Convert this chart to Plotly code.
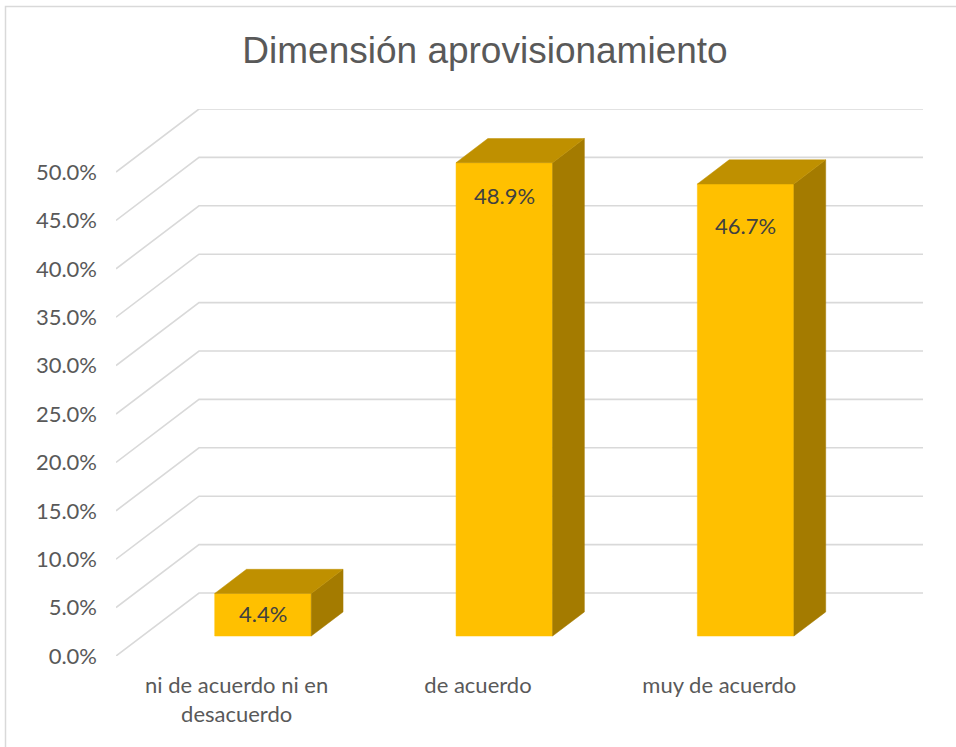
import plotly.graph_objects as go

# ---- data ----
categories = ["ni de acuerdo ni en<br>desacuerdo", "de acuerdo", "muy de acuerdo"]
values = [4.4, 48.9, 46.7]          # percent
label_text = ["4.4%", "48.9%", "46.7%"]
tick_vals = [0, 5, 10, 15, 20, 25, 30, 35, 40, 45, 50]
tick_text = ["0.0%", "5.0%", "10.0%", "15.0%", "20.0%", "25.0%", "30.0%",
             "35.0%", "40.0%", "45.0%", "50.0%"]

# ---- style / projection ----
W, H = 956, 747
ML, MR, MT, MB = 116, 33, 109, 91
PX_PER_CAT = 241.3
PX_PER_PCT = 9.68
DEPTH_PX_X, DEPTH_PX_Y = 83, 63
DXU = DEPTH_PX_X / PX_PER_CAT      # category units shift at back wall
DYU = DEPTH_PX_Y / PX_PER_PCT      # percent units shift at back wall
Z0, Z1 = 0.317, 0.70               # bar depth span
HALF = 0.20                        # half bar width (category units)
YMAX = 50
GRID = "#d9d9d9"
FRONT, TOP, SIDE = "#FFC000", "#BF9000", "#A47B00"
LABEL_DROP = [20, 33, 42]          # px below bar top for data labels

def P(x, v, z):
    return x + z * DXU, v + z * DYU

fig = go.Figure()

# gridlines: left wall diagonals + back wall horizontals
gx, gy = [], []
x_left = -0.5
x_right = len(categories) - 0.5
for t in tick_vals:
    a = P(x_left, t, 0); b = P(x_left, t, 1); c = P(x_right, t, 1)
    gx += [a[0], b[0], c[0], None]
    gy += [a[1], b[1], c[1], None]
fig.add_trace(go.Scatter(x=gx, y=gy, mode="lines", line=dict(color=GRID, width=1.6),
                         hoverinfo="skip", showlegend=False))

# bars
for i, v in enumerate(values):
    xl, xr = i - HALF, i + HALF
    faces = [
        ([P(xl, 0, Z0), P(xr, 0, Z0), P(xr, v, Z0), P(xl, v, Z0)], FRONT),
        ([P(xr, 0, Z0), P(xr, 0, Z1), P(xr, v, Z1), P(xr, v, Z0)], SIDE),
        ([P(xl, v, Z0), P(xr, v, Z0), P(xr, v, Z1), P(xl, v, Z1)], TOP),
    ]
    for pts, col in faces:
        fig.add_trace(go.Scatter(
            x=[p[0] for p in pts] + [pts[0][0]],
            y=[p[1] for p in pts] + [pts[0][1]],
            mode="lines", fill="toself", fillcolor=col,
            line=dict(color=col, width=0.5),
            hoverinfo="skip", showlegend=False))
    lx, ly = P(i, v, Z0)
    fig.add_annotation(x=lx, y=ly, text=label_text[i], showarrow=False,
                       yanchor="middle", yshift=-LABEL_DROP[i],
                       font=dict(family="Lato", size=22, color="#404040"))

fig.update_layout(
    width=W, height=H,
    margin=dict(l=ML, r=MR, t=MT, b=MB),
    paper_bgcolor="white", plot_bgcolor="white",
    title=dict(text="Dimensión aprovisionamiento", x=485 / W, xanchor="center",
               xref="container", y=1 - 50 / H, yanchor="middle",
               font=dict(family="Arial, 'Liberation Sans', sans-serif", size=37, color="#595959")),
    xaxis=dict(range=[x_left, x_right + DXU], tickvals=[0, 1, 2], ticktext=categories,
               showgrid=False, zeroline=False, showline=False, ticks="",
               ticklabelstandoff=14, fixedrange=True,
               tickfont=dict(family="Lato", size=22, color="#595959")),
    yaxis=dict(range=[0, YMAX + DYU], tickvals=tick_vals, ticktext=tick_text,
               showgrid=False, zeroline=False, showline=False, ticks="",
               ticklabelstandoff=18, fixedrange=True,
               tickfont=dict(family="Lato", size=22, color="#595959")),
    shapes=[dict(type="rect", xref="paper", yref="paper",
                 x0=(5.5 - ML) / (W - ML - MR), x1=(W + 10 - ML) / (W - ML - MR),
                 y0=-(H + 10 - (H - MB)) / (H - MT - MB), y1=1 + (MT - 6.5) / (H - MT - MB),
                 line=dict(color=GRID, width=1.5), layer="below")],
)

fig.write_html("out.html")
